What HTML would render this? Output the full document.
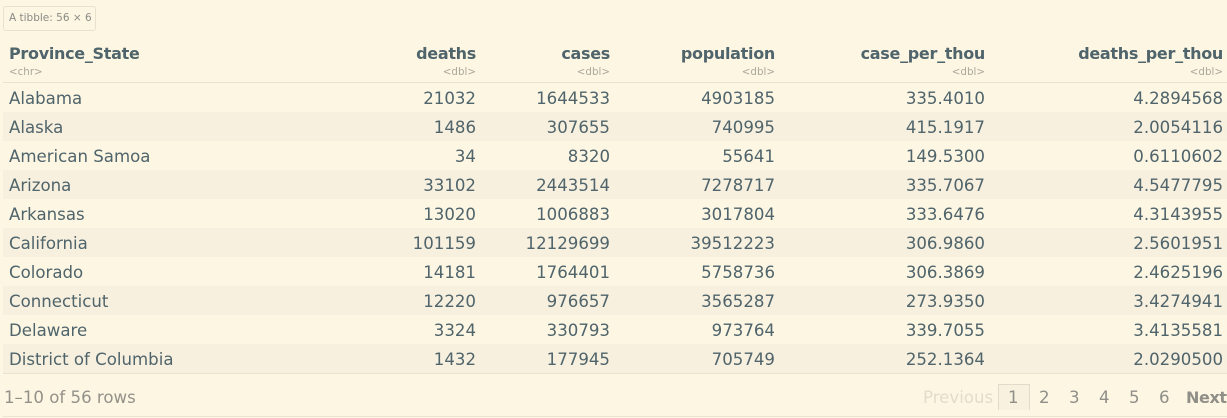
<!DOCTYPE html>
<html><head><meta charset="utf-8">
<style>
html,body{margin:0;padding:0;}
body{width:1227px;height:418px;background:#fdf6e3;position:relative;overflow:hidden;font-family:"DejaVu Sans","Liberation Sans",sans-serif;color:#4f646b;}
.a{position:absolute;white-space:nowrap;}
.badge{left:3px;top:6px;width:91px;height:23px;border:1px solid #e8e1cd;border-radius:3px;font-size:10.5px;line-height:23px;color:#8a8a84;text-indent:5px;}
.h{font-weight:bold;font-size:16px;letter-spacing:-0.3px;line-height:20px;top:44px;color:#4f646b;}
.t{font-size:10.3px;line-height:12px;top:66px;color:#aaa79c;}
.row{position:absolute;left:3px;width:1224px;height:29px;font-size:16.6px;line-height:29px;}
.row.s{background:#f8f0de;}
.row span{position:absolute;top:1px;}
.pg{font-size:16.6px;line-height:29px;top:383px;color:#8f8f88;}
</style></head><body>
<div class="a badge">A tibble: 56 × 6</div>

<div class="a h" style="left:9px;">Province_State</div>
<div class="a h" style="right:751px;">deaths</div>
<div class="a h" style="right:617px;">cases</div>
<div class="a h" style="right:452px;">population</div>
<div class="a h" style="right:242px;">case_per_thou</div>
<div class="a h" style="right:4px;">deaths_per_thou</div>

<div class="a t" style="left:9px;">&lt;chr&gt;</div>
<div class="a t" style="right:751px;">&lt;dbl&gt;</div>
<div class="a t" style="right:617px;">&lt;dbl&gt;</div>
<div class="a t" style="right:452px;">&lt;dbl&gt;</div>
<div class="a t" style="right:242px;">&lt;dbl&gt;</div>
<div class="a t" style="right:4px;">&lt;dbl&gt;</div>

<div class="a" style="left:3px;top:82px;width:1224px;height:1px;background:#e9e2ce;"></div>

<div class="row" style="top:83px;"><span style="left:6px">Alabama</span><span style="right:751px">21032</span><span style="right:617px">1644533</span><span style="right:452px">4903185</span><span style="right:242px">335.4010</span><span style="right:4px">4.2894568</span></div>
<div class="row s" style="top:112px;"><span style="left:6px">Alaska</span><span style="right:751px">1486</span><span style="right:617px">307655</span><span style="right:452px">740995</span><span style="right:242px">415.1917</span><span style="right:4px">2.0054116</span></div>
<div class="row" style="top:141px;"><span style="left:6px">American Samoa</span><span style="right:751px">34</span><span style="right:617px">8320</span><span style="right:452px">55641</span><span style="right:242px">149.5300</span><span style="right:4px">0.6110602</span></div>
<div class="row s" style="top:170px;"><span style="left:6px">Arizona</span><span style="right:751px">33102</span><span style="right:617px">2443514</span><span style="right:452px">7278717</span><span style="right:242px">335.7067</span><span style="right:4px">4.5477795</span></div>
<div class="row" style="top:199px;"><span style="left:6px">Arkansas</span><span style="right:751px">13020</span><span style="right:617px">1006883</span><span style="right:452px">3017804</span><span style="right:242px">333.6476</span><span style="right:4px">4.3143955</span></div>
<div class="row s" style="top:228px;"><span style="left:6px">California</span><span style="right:751px">101159</span><span style="right:617px">12129699</span><span style="right:452px">39512223</span><span style="right:242px">306.9860</span><span style="right:4px">2.5601951</span></div>
<div class="row" style="top:257px;"><span style="left:6px">Colorado</span><span style="right:751px">14181</span><span style="right:617px">1764401</span><span style="right:452px">5758736</span><span style="right:242px">306.3869</span><span style="right:4px">2.4625196</span></div>
<div class="row s" style="top:286px;"><span style="left:6px">Connecticut</span><span style="right:751px">12220</span><span style="right:617px">976657</span><span style="right:452px">3565287</span><span style="right:242px">273.9350</span><span style="right:4px">3.4274941</span></div>
<div class="row" style="top:315px;"><span style="left:6px">Delaware</span><span style="right:751px">3324</span><span style="right:617px">330793</span><span style="right:452px">973764</span><span style="right:242px">339.7055</span><span style="right:4px">3.4135581</span></div>
<div class="row s" style="top:344px;"><span style="left:6px">District of Columbia</span><span style="right:751px">1432</span><span style="right:617px">177945</span><span style="right:452px">705749</span><span style="right:242px">252.1364</span><span style="right:4px">2.0290500</span></div>

<div class="a" style="left:3px;top:373px;width:1224px;height:1px;background:#e9e2ce;"></div>

<div class="a pg" style="left:4px;color:#939189;">1–10 of 56 rows</div>

<div class="a pg" style="left:923px;color:#e2dccb;">Previous</div>
<div class="a" style="left:998px;top:384px;width:30px;height:25px;border:1px solid #e2dbca;border-bottom:none;background:#f8f1df;"></div>
<div class="a pg" style="left:1008px;">1</div>
<div class="a pg" style="left:1039px;">2</div>
<div class="a pg" style="left:1069px;">3</div>
<div class="a pg" style="left:1099px;">4</div>
<div class="a pg" style="left:1129px;">5</div>
<div class="a pg" style="left:1159px;">6</div>
<div class="a pg" style="left:1186px;font-weight:bold;letter-spacing:-0.4px;font-size:16px;">Next</div>

<div class="a" style="left:3px;top:416px;width:1224px;height:1px;background:#ebe4d1;"></div>
</body></html>
